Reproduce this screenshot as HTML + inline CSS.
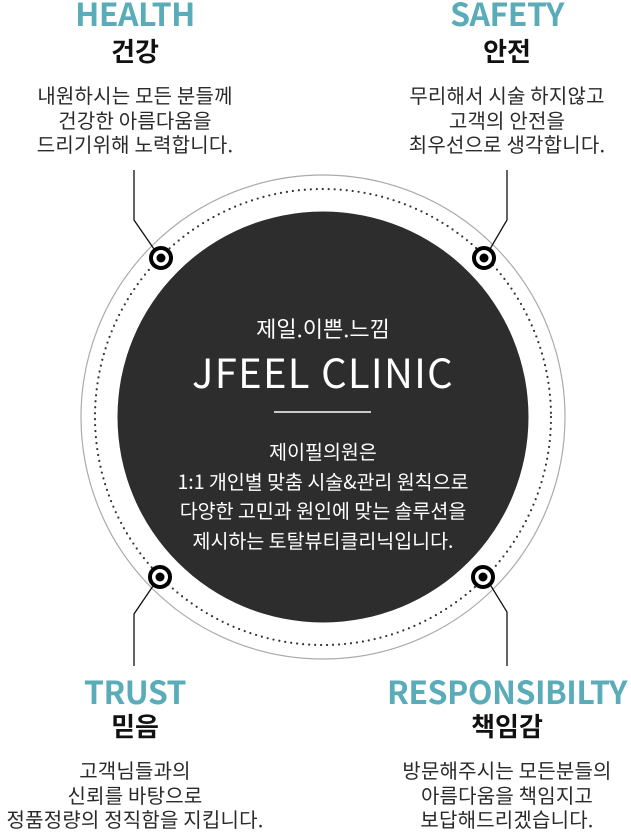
<!DOCTYPE html>
<html><head><meta charset="utf-8"><style>
html,body{margin:0;padding:0;width:631px;height:833px;background:#fff;overflow:hidden;position:relative;font-family:"Noto Sans CJK KR","Liberation Sans",sans-serif;}
.t{position:absolute;text-align:center;white-space:nowrap;}
.h{font-weight:bold;color:#5aacb8;font-size:32px;line-height:30px;letter-spacing:-0.5px;}
.k{font-weight:bold;color:#111;font-size:26px;line-height:28px;}
.b{color:#2a2a2a;font-size:20px;line-height:24.5px;letter-spacing:0.2px;}
.w{color:#fff;}
</style></head><body>
<svg width="631" height="833" style="position:absolute;left:0;top:0">
<circle cx="323" cy="417" r="242" fill="none" stroke="#aaa" stroke-width="1.2"/>
<circle cx="323" cy="417" r="228" fill="none" stroke="#333" stroke-width="2.2" stroke-dasharray="0 6" stroke-linecap="round"/>
<circle cx="323" cy="417" r="205.5" fill="#2d2d2d"/>
<g stroke="#111" stroke-width="1.3" fill="none">
<polyline points="134,170 134,220 154,249"/>
<polyline points="507,170 507,220 490,249"/>
<polyline points="134,666 134,614 153,586"/>
<polyline points="507,666 507,612 491,586"/>
</g>
<g>
<circle cx="161" cy="258" r="10" fill="#fff" stroke="#000" stroke-width="4"/><circle cx="161" cy="258" r="4.5" fill="#000"/>
<circle cx="484" cy="258" r="10" fill="#fff" stroke="#000" stroke-width="4"/><circle cx="484" cy="258" r="4.5" fill="#000"/>
<circle cx="160" cy="577" r="10" fill="#fff" stroke="#000" stroke-width="4"/><circle cx="160" cy="577" r="4.5" fill="#000"/>
<circle cx="483" cy="577" r="10" fill="#fff" stroke="#000" stroke-width="4"/><circle cx="483" cy="577" r="4.5" fill="#000"/>
</g>
<line x1="274" y1="412" x2="371" y2="412" stroke="#fff" stroke-width="1.5"/>
</svg>

<div class="t h" style="left:35px;width:200px;top:-2px">HEALTH</div>
<div class="t k" style="left:35px;width:200px;top:37px">건강</div>
<div class="t b" style="left:0px;width:270px;top:83px">내원하시는 모든 분들께<br>건강한 아름다움을<br>드리기위해 노력합니다.</div>

<div class="t h" style="left:407px;width:200px;top:-2px">SAFETY</div>
<div class="t k" style="left:407px;width:200px;top:37px">안전</div>
<div class="t b" style="left:372px;width:270px;top:83px">무리해서 시술 하지않고<br>고객의 안전을<br>최우선으로 생각합니다.</div>

<div class="t h" style="left:35px;width:200px;top:676px">TRUST</div>
<div class="t k" style="left:35px;width:200px;top:712px">믿음</div>
<div class="t b" style="left:0px;width:270px;top:758px">고객님들과의<br>신뢰를 바탕으로<br>정품정량의 정직함을 지킵니다.</div>

<div class="t h" style="left:361px;width:292px;top:676px">RESPONSIBILTY</div>
<div class="t k" style="left:407px;width:200px;top:712px">책임감</div>
<div class="t b" style="left:372px;width:270px;top:758px">방문해주시는 모든분들의<br>아름다움을 책임지고<br>보답해드리겠습니다.</div>

<div class="t w" style="left:173px;width:300px;top:314px;font-size:22px;line-height:28px">제일.이쁜.느낌</div>
<div class="t w" style="left:143px;width:360px;top:346px;font-size:40px;line-height:50px;letter-spacing:1.3px">JFEEL CLINIC</div>
<div class="t w" style="left:113px;width:420px;top:436px;font-size:19.5px;line-height:29.5px">제이필의원은<br>1:1 개인별 맞춤 시술&amp;관리 원칙으로<br>다양한 고민과 원인에 맞는 솔루션을<br>제시하는 토탈뷰티클리닉입니다.</div>
</body></html>
